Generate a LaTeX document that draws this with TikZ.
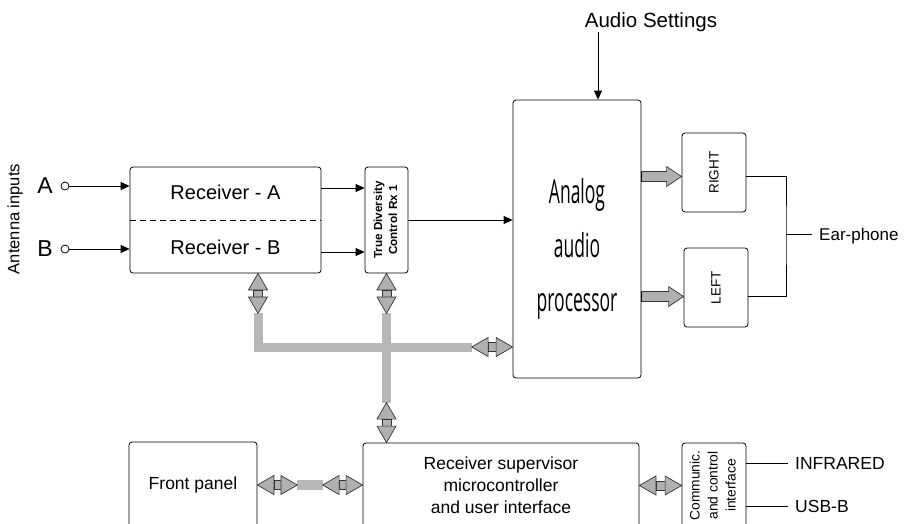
\documentclass[tikz,border=0pt]{standalone}
\usepackage{fontspec}
\setmainfont{Liberation Sans}
\newfontfamily\condfont[FakeStretch=0.53]{Open Sans}
\usetikzlibrary{arrows.meta,calc}
\definecolor{busgray}{RGB}{183,183,183}
\definecolor{blkgray}{RGB}{176,176,176}
\newcommand\dblk[2]{%
  \coordinate (dA) at (#1); \coordinate (dB) at (#2);
  \coordinate (dP) at ($(dA)!16.5pt!(dB)$);
  \coordinate (dQ) at ($(dB)!16.5pt!(dA)$);
  \draw[blk] ($(dP)!4.5pt!90:(dB)$) -- ($(dQ)!4.5pt!-90:(dA)$) -- ($(dQ)!4.5pt!90:(dA)$) -- ($(dP)!4.5pt!-90:(dB)$) -- cycle;
  \draw[blk] (dA) -- ($(dP)!9.5pt!90:(dB)$) -- ($(dP)!9.5pt!-90:(dB)$) -- cycle;
  \draw[blk] (dB) -- ($(dQ)!9.5pt!90:(dA)$) -- ($(dQ)!9.5pt!-90:(dA)$) -- cycle;
}
\newcommand\sblk[2]{%
  \coordinate (sA) at (#1); \coordinate (sB) at (#2);
  \coordinate (sP) at ($(sB)!15pt!(sA)$);
  \draw[blk] ($(sA)!5pt!90:(sB)$) -- ($(sP)!5pt!-90:(sA)$) -- ($(sP)!10pt!-90:(sA)$) -- (sB)
     -- ($(sP)!10pt!90:(sA)$) -- ($(sP)!5pt!90:(sA)$) -- ($(sA)!5pt!-90:(sB)$) -- cycle;
  \draw[line width=1.6pt] ($(sA)!5pt!90:(sB)$) -- ($(sA)!5pt!-90:(sB)$);
}
\begin{document}
\begin{tikzpicture}[x=1pt,y=-1pt,
  box/.style={draw=black,line width=0.8pt,rounded corners=3pt,inner sep=0pt},
  lbl/.style={inner sep=0pt},
  arr/.style={line width=0.8pt,-{Triangle[length=9pt,width=8pt]}},
  wire/.style={line width=0.8pt},
  bus/.style={line width=9pt,draw=busgray,line join=miter},
  blk/.style={fill=blkgray,draw=black!80,line width=0.7pt,line join=miter},
]
\useasboundingbox (0,0) rectangle (905,523);
\clip (0,0) rectangle (905,523);

% antenna inputs
\node[lbl,rotate=90,font=\fontsize{16.5}{20}\selectfont] (ant) at (15,219) {Antenna inputs};
\node[lbl,font=\fontsize{23}{27}\selectfont] (la) at (45,186) {A};
\node[lbl,font=\fontsize{23}{27}\selectfont] (lb) at (45,249) {B};
\node[circle,draw,line width=0.8pt,inner sep=0pt,minimum size=8pt] (ca) at (65,186) {};
\node[circle,draw,line width=0.8pt,inner sep=0pt,minimum size=8pt] (cb) at (65,249) {};

% receiver
\node[box,minimum width=191pt,minimum height=106pt] (recv) at (225.5,220) {};
\node[lbl,font=\fontsize{20}{24}\selectfont] (recA) at (225.5,192) {Receiver - A};
\node[lbl,font=\fontsize{20}{24}\selectfont] (recB) at (225.5,247) {Receiver - B};
\draw[wire,dash pattern=on 6pt off 4pt] (recv.west) -- (recv.east);
\draw[arr] (ca.east) -- (recv.west |- ca.east);
\draw[arr] (cb.east) -- (recv.west |- cb.east);

% true diversity
\node[box,minimum width=43pt,minimum height=106pt,font=\bfseries\fontsize{11.7}{15}\selectfont] (tdc) at (386.5,220)
  {\rotatebox{90}{\begin{tabular}{@{}c@{}}True Diversity\\Control Rx 1\end{tabular}}};
\draw[arr] ([yshift=32pt]recv.east) -- ([yshift=32pt]tdc.west);
\draw[arr] ([yshift=-32pt]recv.east) -- ([yshift=-32pt]tdc.west);

% analog audio processor
\node[box,minimum width=128pt,minimum height=278pt] (ana) at (577,239) {};
\node[lbl,font=\condfont\fontsize{33}{54}\selectfont,align=center] (anatxt) at (577,249) {Analog\\audio\\processor};
\draw[arr] (tdc.east) -- (tdc.east -| ana.west);
\node[lbl,anchor=base,font=\fontsize{20.5}{24}\selectfont] (aud) at (651,27) {Audio Settings};
\coordinate (audS) at (598,32);
\draw[arr] (audS) -- (audS |- ana.north);

% right / left
\node[box,minimum width=64pt,minimum height=79pt,font=\fontsize{13.5}{16}\selectfont] (right) at (714,172.5) {\rotatebox{90}{RIGHT}};
\node[box,minimum width=64pt,minimum height=79pt,font=\fontsize{13.5}{16}\selectfont] (left) at (716,287.5) {\rotatebox{90}{LEFT}};
\coordinate (rin) at ([yshift=-4pt]right.west);
\coordinate (lin) at ([yshift=-9pt]left.west);
\sblk{ana.east |- rin}{rin}
\sblk{ana.east |- lin}{lin}
\coordinate (ej) at (786,234);
\draw[wire] ([yshift=-4pt]right.east) -| (ej) |- ([yshift=-9pt]left.east);
\node[lbl,anchor=west,font=\fontsize{17}{20}\selectfont] (ear) at (819,236) {Ear-phone};
\draw[wire] (ej) -- ([xshift=-7pt]ear.west |- ej);

% bottom boxes
\node[box,minimum width=128pt,minimum height=86pt,font=\fontsize{17.5}{22}\selectfont] (front) at (193,485) {Front panel};
\node[box,minimum width=276pt,minimum height=85pt,align=center,font=\fontsize{17.5}{22}\selectfont] (sup) at (501,485.5)
  {Receiver supervisor\\microcontroller\\and user interface};
\node[box,minimum width=64pt,minimum height=85pt,font=\fontsize{13.8}{18}\selectfont] (comm) at (714,485.5)
  {\rotatebox{90}{\begin{tabular}{@{}c@{}}Communic.\\and control\\interface\end{tabular}}};
\node[lbl,anchor=west,font=\fontsize{17.5}{20}\selectfont] (ir) at (795,463) {INFRARED};
\node[lbl,anchor=west,font=\fontsize{17.5}{20}\selectfont] (usb) at (795,506) {USB-B};
\draw[wire] (comm.east |- ir.west) -- ([xshift=-7pt]ir.west);
\draw[wire] (comm.east |- usb.west) -- ([xshift=-7pt]usb.west);

% bus
\coordinate (c1A) at (recv.south -| 258,0);
\coordinate (c1A) at ($(recv.south)+(32.5,0)$);
\coordinate (c1B) at ($(c1A)+(0,40)$);
\coordinate (c2A) at (tdc.south);
\coordinate (c2B) at ($(c2A)+(0,40)$);
\coordinate (c3A) at (tdc.south |- sup.north);
\coordinate (c3B) at ($(c3A)+(0,-40)$);
\coordinate (busL) at (c1A |- 0,347);
\coordinate (c4A) at (ana.west |- busL);
\coordinate (c4B) at ($(c4A)+(-41,0)$);
\draw[bus] (c1B) -- (busL) -- (c4B);
\draw[bus] (c2B) -- (c3B);
\dblk{c1A}{c1B}
\dblk{c2A}{c2B}
\dblk{c3A}{c3B}
\dblk{c4A}{c4B}

% front panel link
\coordinate (c5A) at (front.east);
\coordinate (c5B) at ($(c5A)+(40,0)$);
\coordinate (c6A) at (sup.west |- front.east);
\coordinate (c6B) at ($(c6A)+(-40,0)$);
\draw[line width=10pt,draw=busgray] (c5B) -- (c6B);
\dblk{c5A}{c5B}
\dblk{c6A}{c6B}
\dblk{sup.east |- comm.west}{comm.west}
\end{tikzpicture}
\end{document}
